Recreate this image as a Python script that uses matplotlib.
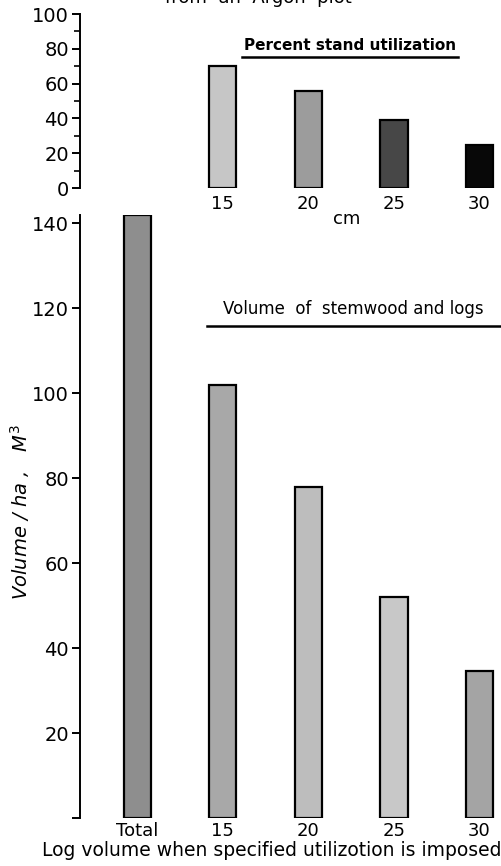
#IMPORT NECESSARY LIBRARIES
import numpy as np
import matplotlib.pyplot as plt
from matplotlib.lines import Line2D


#DATA
vol_labels = ["Total", "15", "20", "25", "30"]
vol_values = [142, 102, 78, 52, 34.5]
vol_colors = ["#8e8e8e", "#a8a8a8", "#bdbdbd", "#c8c8c8", "#a4a4a4"]

util_labels = ["15", "20", "25", "30"]
util_values = [70, 56, 39, 25]
util_colors = ["#c6c6c6", "#9c9c9c", "#474747", "#080808"]

vol_ticks = [0, 20, 40, 60, 80, 100, 120, 140]
util_ticks = [0, 20, 40, 60, 80, 100]

plt.rcParams['font.family'] = ['DejaVu Sans']

W, H = 502, 866
fig = plt.figure(figsize=(W / 100, H / 100), dpi=100)

x_lo, x_hi = -0.67, 4.265
bar_w = 0.32


#VOLUME PANEL (BOTTOM)
ax = fig.add_axes([80 / W, 48 / H, 422 / W, 603 / H])
xv = np.arange(len(vol_values))
ax.bar(xv, vol_values, width=bar_w, color=vol_colors, edgecolor="black", linewidth=1.6)
ax.set_xlim(x_lo, x_hi)
ax.set_ylim(0, 142)
ax.set_yticks(vol_ticks)
ax.set_yticklabels([""] + [str(t) for t in vol_ticks[1:]], fontsize=14)
ax.set_xticks(xv)
ax.set_xticklabels(vol_labels, fontsize=13)
ax.tick_params(axis="x", length=0, pad=3)
ax.tick_params(axis="y", length=6, width=1.4, pad=2)
for s in ["top", "right", "bottom"]:
    ax.spines[s].set_visible(False)
ax.spines["left"].set_linewidth(1.4)


#UTILIZATION PANEL (TOP)
ax2 = fig.add_axes([80 / W, 678 / H, 422 / W, 174 / H])
xu = np.arange(1, len(util_values) + 1)
ax2.bar(xu, util_values, width=bar_w, color=util_colors, edgecolor="black", linewidth=1.6)
ax2.set_xlim(x_lo, x_hi)
ax2.set_ylim(0, 100)
ax2.set_yticks(util_ticks)
ax2.set_yticklabels([str(t) for t in util_ticks], fontsize=14)
ax2.set_yticks(np.arange(0, 101, 10), minor=True)
ax2.set_xticks(xu)
ax2.set_xticklabels(util_labels, fontsize=13)
ax2.tick_params(axis="x", length=0, pad=5)
ax2.tick_params(axis="y", which="major", length=6, width=1.4, pad=2)
ax2.tick_params(axis="y", which="minor", length=4, width=1.2)
for s in ["top", "right", "bottom"]:
    ax2.spines[s].set_visible(False)
ax2.spines["left"].set_linewidth(1.4)


#TEXTS AND UNDERLINES
# title line is cut by the top edge in the source figure
fig.text(258 / W, 1 - 3 / H, "from  an  Argon  plot", ha="center", va="baseline", fontsize=13)
fig.text(350 / W, 1 - 45 / H, "Percent stand utilization", ha="center", va="center",
         fontsize=11, fontweight="bold")
fig.add_artist(Line2D([242 / W, 458 / W], [1 - 57 / H, 1 - 57 / H], color="black", lw=1.8))
fig.text(347 / W, 1 - 219 / H, "cm", ha="center", va="center", fontsize=13)
fig.text(353 / W, 1 - 309 / H, "Volume  of  stemwood and logs", ha="center", va="center", fontsize=12)
fig.add_artist(Line2D([207 / W, 500 / W], [1 - 326 / H, 1 - 326 / H], color="black", lw=1.8))
fig.text(20 / W, 1 - 512 / H, "Volume / ha ,   $M^3$", rotation=90, ha="center", va="center",
         fontsize=14, fontstyle="italic")
fig.text(272 / W, 1 - 851 / H, "Log volume when specified utilizotion is imposed",
         ha="center", va="center", fontsize=13.5)

fig.savefig("out.png", dpi=100)
